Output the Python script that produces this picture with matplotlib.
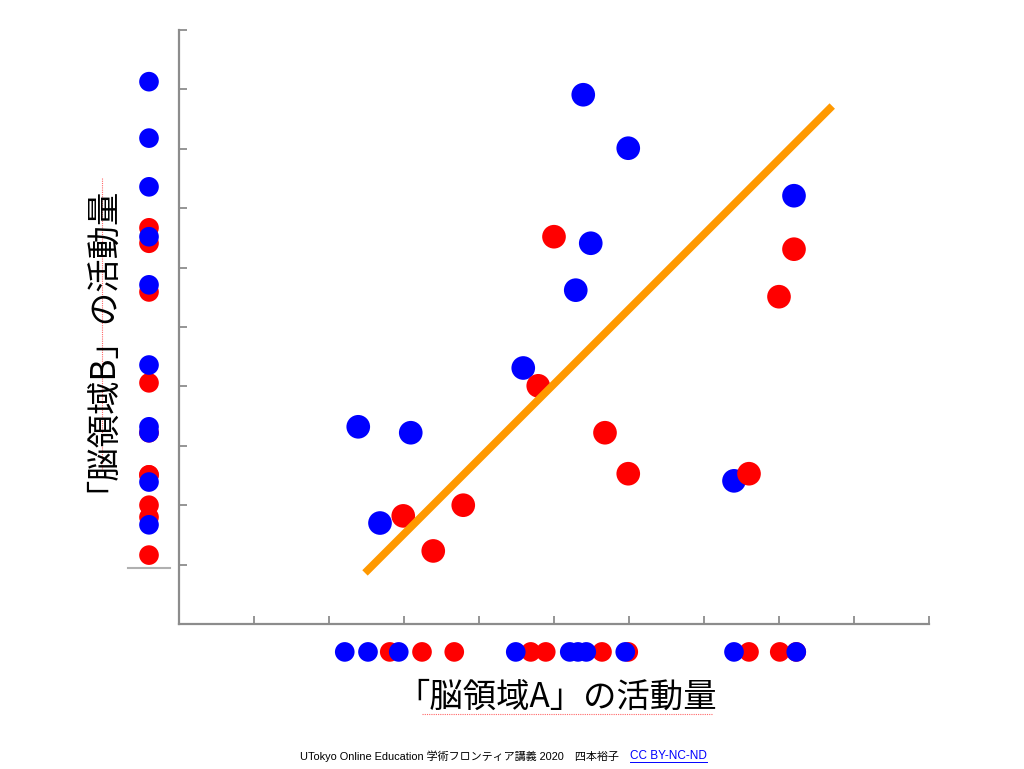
import matplotlib
matplotlib.use("Agg")
import matplotlib.pyplot as plt
from matplotlib.lines import Line2D

plt.rcParams['font.family'] = ['Noto Sans CJK JP', 'DejaVu Sans']

# main scatter (brain area A activity, brain area B activity)
blue_x = [5.39, 5.99, 8.20, 5.49, 5.29, 4.59, 2.39, 3.09, 2.68, 7.40]
blue_y = [8.91, 8.01, 7.21, 6.41, 5.62, 4.31, 3.32, 3.22, 1.70, 2.41]
red_x = [5.00, 8.20, 8.00, 4.79, 5.68, 5.99, 7.60, 3.79, 2.99, 3.39]
red_y = [6.52, 6.31, 5.51, 4.01, 3.22, 2.53, 2.53, 2.00, 1.82, 1.23]

# projections drawn along the axes
blue_x_proj = [2.21, 2.52, 2.93, 4.49, 5.21, 5.32, 5.43, 5.95, 7.40, 8.23]
red_x_proj = [2.81, 3.24, 3.67, 4.69, 4.89, 5.64, 5.99, 7.60, 8.01, 8.23]
blue_y_proj = [9.13, 8.18, 7.36, 6.52, 5.71, 4.36, 3.32, 3.22, 2.39, 1.67]
red_y_proj = [6.67, 6.41, 5.59, 4.06, 3.22, 2.51, 2.51, 2.00, 1.80, 1.16]
x_proj_level = -0.47
y_proj_level = -0.40

# regression line end points
fit_x = [2.48, 8.71]
fit_y = [0.86, 8.72]

ticks = list(range(1, 11))
BLUE = "#0000ff"
RED = "#ff0000"
ORANGE = "#ff9900"
SPINE = "#8c8c8c"

fig = plt.figure(figsize=(10.24, 7.69), dpi=100)
ax = fig.add_axes([179 / 1024, 145 / 769, 750 / 1024, 594 / 769])
ax.set_xlim(0, 10)
ax.set_ylim(0, 10)
for side in ['top', 'right']:
    ax.spines[side].set_visible(False)
for side in ['left', 'bottom']:
    ax.spines[side].set_color(SPINE)
    ax.spines[side].set_linewidth(1.6)
ax.set_xticks(ticks)
ax.set_yticks(ticks)
ax.set_xticklabels([])
ax.set_yticklabels([])
ax.tick_params(direction='in', length=6, width=1.3, color=SPINE)

# projections
ax.scatter(red_x_proj, [x_proj_level] * len(red_x_proj), s=200, color=RED,
           edgecolors='none', clip_on=False, zorder=3)
ax.scatter(blue_x_proj, [x_proj_level] * len(blue_x_proj), s=200, color=BLUE,
           edgecolors='none', clip_on=False, zorder=3)
ax.scatter([y_proj_level] * len(red_y_proj), red_y_proj, s=200, color=RED,
           edgecolors='none', clip_on=False, zorder=3)
ax.scatter([y_proj_level] * len(blue_y_proj), blue_y_proj, s=200, color=BLUE,
           edgecolors='none', clip_on=False, zorder=3)
ax.plot([-0.68, -0.12], [0.94, 0.94], color="#b0b0b0", lw=1.5, clip_on=False, zorder=2)

# main points
ax.scatter(blue_x, blue_y, s=290, color=BLUE, edgecolors='none', clip_on=False, zorder=3)
ax.scatter(red_x, red_y, s=290, color=RED, edgecolors='none', clip_on=False, zorder=3)

ax.plot(fit_x, fit_y, color=ORANGE, lw=5.5, solid_capstyle='butt', zorder=4)

# axis labels
fig.text(557 / 1024, 1 - 697 / 769, "「脳領域A」の活動量", fontsize=24,
         ha='center', va='center')
fig.text(85 / 1024, 1 - 331 / 769, "「脳領域B」の活動量", fontsize=24,
         ha='center', va='center', rotation=90)
# spell-check squiggles under labels
fig.add_artist(Line2D([422 / 1024, 712 / 1024], [1 - 714 / 769, 1 - 714 / 769],
                      color=RED, lw=0.8, ls=(0, (1, 1)), alpha=0.6))
fig.add_artist(Line2D([102 / 1024, 102 / 1024], [1 - 178 / 769, 1 - 470 / 769],
                      color=RED, lw=0.8, ls=(0, (1, 1)), alpha=0.6))

# footer
fig.text(619 / 1024, 1 - 756 / 769,
         "UTokyo Online Education 学術フロンティア講義 2020\u3000四本裕子",
         fontsize=7.95, ha='right', va='center',
         family=['Liberation Sans', 'Noto Sans CJK JP'])
fig.text(630 / 1024, 1 - 756 / 769, "CC BY-NC-ND", fontsize=8.5, ha='left',
         va='center', color=BLUE, family=['Liberation Sans', 'Noto Sans CJK JP'])
fig.add_artist(Line2D([630 / 1024, 707 / 1024], [1 - 762 / 769, 1 - 762 / 769],
                      color=BLUE, lw=0.7))

fig.savefig("out.png", dpi=100)
